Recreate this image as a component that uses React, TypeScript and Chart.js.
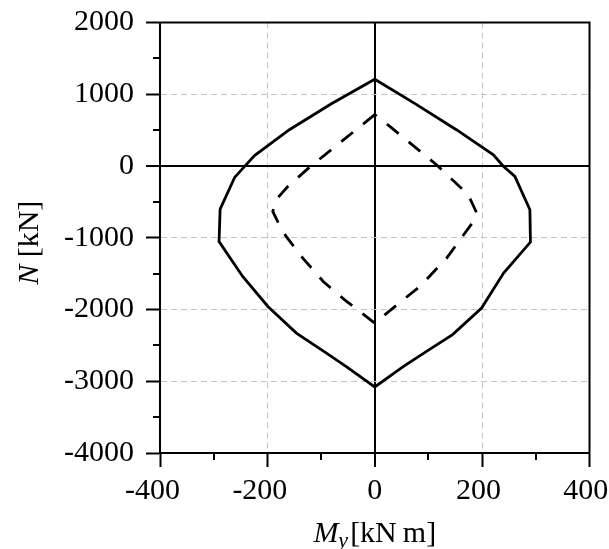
import React, { useEffect, useRef } from 'react';
import { Chart, registerables } from 'chart.js';

Chart.register(...registerables);

// Outer interaction curve (solid): M_y [kN m], N [kN]
const outerM = [0, -80, -159, -224, -261, -288, -290, -246, -199, -146, -90, -53, 0, 53, 95, 145, 199, 240, 290, 289, 261, 239, 221, 152, 75, 0];
const outerN = [1210, 870, 506, 144, -159, -600, -1052, -1540, -1958, -2329, -2608, -2795, -3080, -2795, -2590, -2350, -1980, -1492, -1060, -609, -145, 0, 155, 506, 870, 1210];

// Inner interaction curve (dashed)
const innerM = [0, -60, -121, -162, -181, -190, -178, -165, -134, -96, -56, -12, 0, 53, 84, 134, 168, 184, 190, 174, 115, 28, 0];
const innerN = [715, 353, -14, -285, -446, -633, -819, -982, -1283, -1609, -1865, -2120, -2190, -1865, -1679, -1283, -934, -773, -655, -400, 18, 552, 715];

const xMin = -400, xMax = 400, xStep = 200;
const yMin = -4000, yMax = 2000, yStep = 1000;
const xMinor = [-300, -100, 100, 300];
const yMinor = [1500, 500, -500, -1500, -2500, -3500];

const FONT = "'Liberation Serif', 'DejaVu Serif', serif";
const FS = 30;

const isEdgeX = (v: number) => v === xMin || v === xMax;
const isEdgeY = (v: number) => v === yMin || v === yMax;

const decor = {
  id: 'decor',
  afterDraw(chart: any) {
    const { ctx, chartArea: a, scales } = chart;
    const sx = scales.x, sy = scales.y;
    ctx.save();
    ctx.strokeStyle = '#000';
    ctx.lineWidth = 2;
    ctx.strokeRect(a.left, a.top, a.right - a.left, a.bottom - a.top);
    ctx.beginPath();
    for (const v of xMinor) {
      const px = Math.round(sx.getPixelForValue(v));
      ctx.moveTo(px, a.bottom);
      ctx.lineTo(px, a.bottom + 7);
    }
    for (const v of yMinor) {
      const py = Math.round(sy.getPixelForValue(v));
      ctx.moveTo(a.left, py);
      ctx.lineTo(a.left - 7, py);
    }
    ctx.stroke();

    // x title: M_y [kN m]
    ctx.fillStyle = '#000';
    ctx.textBaseline = 'alphabetic';
    ctx.textAlign = 'left';
    const fM = `italic ${FS}px ${FONT}`;
    const fSub = `italic ${Math.round(FS * 0.72)}px ${FONT}`;
    const fR = `${FS}px ${FONT}`;
    ctx.font = fM; const wM = ctx.measureText('M').width;
    ctx.font = fSub; const wY = ctx.measureText('y').width;
    ctx.font = fR; const wU = ctx.measureText('[kN\u2009m]').width;
    const gap = 2;
    const total = wM + wY + gap + wU;
    const cx = (a.left + a.right) / 2;
    let x0 = cx - total / 2;
    const base = 542;
    ctx.font = fM; ctx.fillText('M', x0, base); x0 += wM;
    ctx.font = fSub; ctx.fillText('y', x0, base + 5); x0 += wY + gap;
    ctx.font = fR; ctx.fillText('[kN\u2009m]', x0, base);

    // y title: N [kN]
    ctx.save();
    ctx.translate(38, (a.top + a.bottom) / 2 + 5);
    ctx.rotate(-Math.PI / 2);
    ctx.font = fM; const wN = ctx.measureText('N').width;
    ctx.font = fR; const wK = ctx.measureText(' [kN]').width;
    let y0 = -(wN + wK) / 2;
    ctx.font = fM; ctx.fillText('N', y0, 0); y0 += wN;
    ctx.font = fR; ctx.fillText(' [kN]', y0, 0);
    ctx.restore();
    ctx.restore();
  },
};

export default function App() {
  const ref = useRef<HTMLCanvasElement | null>(null);
  useEffect(() => {
    if (!ref.current) return;
    const chart = new Chart(ref.current, {
      type: 'scatter',
      data: {
        datasets: [
          {
            data: outerM.map((m, i) => ({ x: m, y: outerN[i] })),
            showLine: true,
            borderColor: '#000',
            borderWidth: 2.8,
            pointRadius: 0,
            fill: false,
            tension: 0,
          },
          {
            data: innerM.map((m, i) => ({ x: m, y: innerN[i] })),
            showLine: true,
            borderColor: '#000',
            borderWidth: 2.8,
            borderDash: [15, 13],
            pointRadius: 0,
            fill: false,
            tension: 0,
          },
        ],
      },
      options: {
        responsive: false,
        animation: false,
        devicePixelRatio: 1,
        layout: { padding: { top: 22.5, right: 19.5, left: 0, bottom: 0 } },
        plugins: { legend: { display: false }, tooltip: { enabled: false } },
        scales: {
          x: {
            type: 'linear',
            position: 'bottom',
            min: xMin,
            max: xMax,
            afterBuildTicks: (s: any) => {
              const t = [];
              for (let v = xMin; v <= xMax; v += xStep) t.push({ value: v });
              s.ticks = t;
            },
            afterFit: (s: any) => { s.height = 96; s.paddingLeft = 0; s.paddingRight = 0; s.paddingTop = 0; s.paddingBottom = 0; },
            ticks: {
              autoSkip: false,
              maxRotation: 0,
              padding: 6,
              color: '#000',
              font: { family: FONT, size: FS },
              callback: (v: any) => (v < 0 ? String(v) + '  ' : v > 0 ? String(v) + ' ' : String(v)),
            },
            grid: {
              color: (c: any) => {
                const v = c.tick ? c.tick.value : NaN;
                if (v === 0) return '#000';
                if (isEdgeX(v)) return 'rgba(0,0,0,0)';
                return '#c4c4c4';
              },
              lineWidth: (c: any) => (c.tick && c.tick.value === 0 ? 2 : 1),
              tickColor: '#000',
              tickLength: 14,
              tickWidth: 2,
            },
            border: {
              display: true,
              color: '#000',
              width: 2,
              dash: (c: any) => (c.tick && c.tick.value !== 0 ? [6, 4] : []),
            },
          },
          y: {
            type: 'linear',
            min: yMin,
            max: yMax,
            afterBuildTicks: (s: any) => {
              const t = [];
              for (let v = yMin; v <= yMax; v += yStep) t.push({ value: v });
              s.ticks = t;
            },
            afterFit: (s: any) => { s.width = 160; s.paddingTop = 0; s.paddingBottom = 0; s.paddingLeft = 0; s.paddingRight = 0; },
            ticks: {
              autoSkip: false,
              padding: 12,
              color: '#000',
              font: { family: FONT, size: FS },
              callback: (v: any) => String(v),
            },
            grid: {
              color: (c: any) => {
                const v = c.tick ? c.tick.value : NaN;
                if (v === 0) return '#000';
                if (isEdgeY(v)) return 'rgba(0,0,0,0)';
                return '#c4c4c4';
              },
              lineWidth: (c: any) => (c.tick && c.tick.value === 0 ? 2 : 1),
              tickColor: '#000',
              tickLength: 14,
              tickWidth: 2,
            },
            border: {
              display: true,
              color: '#000',
              width: 2,
              dash: (c: any) => (c.tick && c.tick.value !== 0 ? [6, 4] : []),
            },
          },
        },
      },
      plugins: [decor],
    } as any);
    return () => chart.destroy();
  }, []);
  return (
    <div style={{ position: 'absolute', left: 0, top: 0, width: 609, height: 549, background: '#fff' }}>
      <canvas ref={ref} width={609} height={549} style={{ display: 'block', width: 609, height: 549 }} />
    </div>
  );
}
